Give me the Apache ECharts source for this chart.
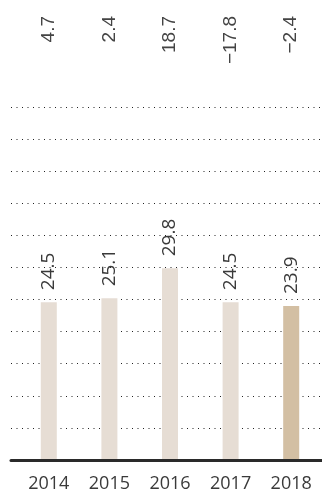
<!DOCTYPE html>
<html><head><meta charset="utf-8">
<script src="https://cdn.jsdelivr.net/npm/echarts@6/dist/echarts.min.js"></script>
<style>html,body{margin:0;padding:0;background:#fff}#c{width:322px;height:493px}</style>
</head><body><div id="c"></div>
<script>
const years = ['2014', '2015', '2016', '2017', '2018'];
const values = [24.5, 25.1, 29.8, 24.5, 23.9];
const changeLabels = ['4.7', '2.4', '18.7', '\u221217.8', '\u22122.4'];
const yMin = 0, yMax = 55, yStep = 5;

const chart = echarts.init(document.getElementById('c'), null, {renderer: 'canvas'});
const barColors = ['#e6ddd4', '#e6ddd4', '#e6ddd4', '#e6ddd4', '#d3bfa3'];
chart.setOption({
  animation: false,
  grid: [
    {left: 11, right: 0, top: 107, bottom: 33},
    {left: 18.5, right: 0.5, top: 107, bottom: 33}
  ],
  xAxis: [
    {gridIndex: 0, type: 'value', min: 0, max: 1,
     axisLine: {show: true, onZero: true, lineStyle: {color: '#2a2a2a', width: 3}},
     axisTick: {show: false}, axisLabel: {show: false}, splitLine: {show: false}},
    {gridIndex: 1, type: 'category', data: years, position: 'bottom',
     axisLine: {show: false}, axisTick: {show: false},
     axisLabel: {color: '#3a3a3a', fontFamily: 'Open Sans', fontSize: 18, margin: 16}},
    {gridIndex: 1, type: 'category', data: changeLabels, position: 'top', offset: 102,
     axisLine: {show: false}, axisTick: {show: false},
     axisLabel: {inside: true, rotate: -90, margin: 11, color: '#444', fontFamily: 'Liberation Sans', fontSize: 19}}
  ],
  yAxis: [
    {gridIndex: 0, type: 'value', min: yMin, max: yMax, interval: yStep,
     axisLine: {show: false}, axisTick: {show: false}, axisLabel: {show: false},
     splitLine: {show: true, lineStyle: {color: '#222', width: 1, type: [1, 4.5]}}},
    {gridIndex: 1, type: 'value', min: yMin, max: yMax, interval: yStep, show: false}
  ],
  series: [{
    type: 'bar', xAxisIndex: 1, yAxisIndex: 1, barWidth: 16,
    data: values.map((v, i) => ({value: v, itemStyle: {color: barColors[i]}})),
    label: {show: true, position: 'top', rotate: 90, align: 'left', verticalAlign: 'middle',
            distance: 12, color: '#3a3a3a', fontFamily: 'Open Sans', fontSize: 19}
  }]
});
</script></body></html>
